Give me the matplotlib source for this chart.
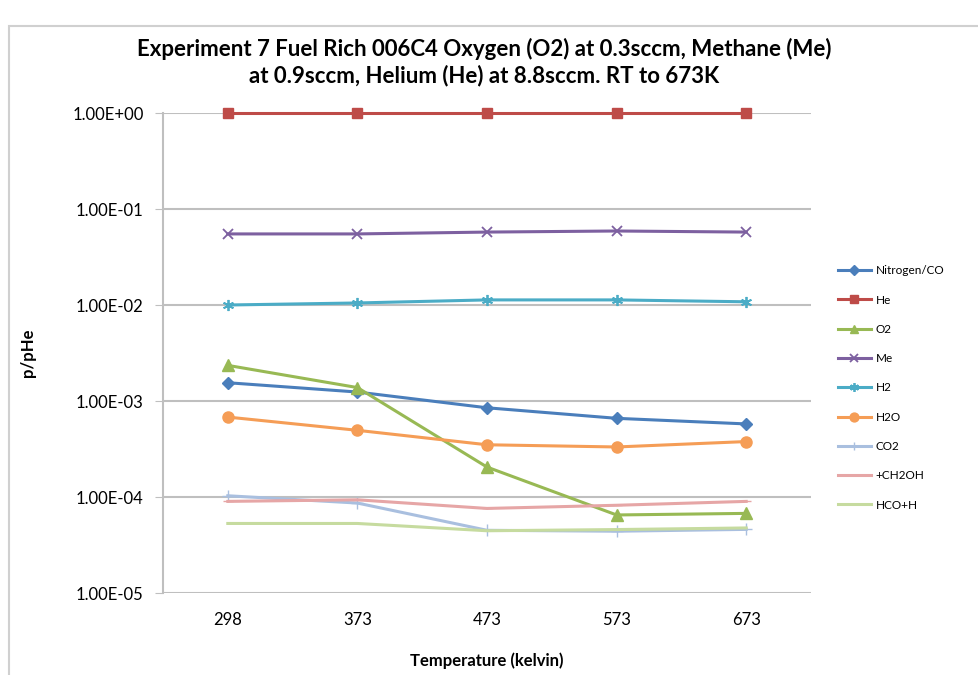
import matplotlib.pyplot as plt
from matplotlib.patches import Rectangle

plt.rcParams["font.family"] = ["Lato", "DejaVu Sans"]

temperatures = ["298", "373", "473", "573", "673"]

nitrogen_co = [1.55e-3, 1.24e-3, 8.5e-4, 6.6e-4, 5.77e-4]
helium = [1.0, 1.0, 1.0, 1.0, 1.0]
oxygen = [2.35e-3, 1.38e-3, 2.05e-4, 6.5e-5, 6.75e-5]
methane = [0.055, 0.055, 0.0575, 0.059, 0.0575]
hydrogen = [0.0100, 0.0105, 0.0113, 0.0113, 0.0108]
water = [6.8e-4, 4.95e-4, 3.5e-4, 3.32e-4, 3.78e-4]
co2 = [1.03e-4, 8.65e-5, 4.5e-5, 4.4e-5, 4.6e-5]
ch2oh = [9.0e-5, 9.35e-5, 7.6e-5, 8.2e-5, 9.0e-5]
hco_h = [5.3e-5, 5.3e-5, 4.45e-5, 4.58e-5, 4.76e-5]

y_ticks = [1e0, 1e-1, 1e-2, 1e-3, 1e-4, 1e-5]
y_tick_labels = ["1.00E+00", "1.00E-01", "1.00E-02", "1.00E-03", "1.00E-04", "1.00E-05"]

series = [
    ("Nitrogen/CO", nitrogen_co, "#4a7ebb", dict(marker="D", markersize=6)),
    ("He", helium, "#be4b48", dict(marker="s", markersize=7)),
    ("O2", oxygen, "#98b954", dict(marker="^", markersize=8)),
    ("Me", methane, "#7d60a0", dict(marker="x", markersize=7, markeredgewidth=1.3)),
    ("H2", hydrogen, "#4bacc6", dict(marker=(6, 2, 0), markersize=8, markeredgewidth=1.3)),
    ("H2O", water, "#f59d56", dict(marker="o", markersize=8)),
    ("CO2", co2, "#a9bfdf", dict(marker="+", markersize=8, markeredgewidth=1.0)),
    ("+CH2OH", ch2oh, "#e6a6a6", dict(marker="_", markersize=7, markeredgewidth=1.0)),
    ("HCO+H", hco_h, "#c6db9f", dict(marker="None")),
]

fig = plt.figure(figsize=(9.79, 6.75), dpi=100)
fig.patches.append(Rectangle((9 / 979, -0.1), 1.2, 1 - 26 / 675 + 0.1,
                             transform=fig.transFigure, fill=False,
                             edgecolor="#d0d0d0", linewidth=1.5))
ax = fig.add_axes([163 / 979, 1 - 593 / 675, 648 / 979, 480 / 675])

x = list(range(len(temperatures)))
for name, values, color, style in series:
    ax.plot(x, values, color=color, linewidth=2.2, label=name, clip_on=False, **style)

ax.set_yscale("log")
ax.set_ylim(1e-5, 1e0)
ax.set_xlim(-0.5, len(temperatures) - 0.5)
ax.set_yticks(y_ticks)
ax.set_yticklabels(y_tick_labels)
ax.minorticks_off()
ax.set_xticks(x)
ax.set_xticklabels(temperatures)
ax.tick_params(axis="y", length=6, color="#bfbfbf", labelsize=12, pad=8)
ax.tick_params(axis="x", length=0, labelsize=12, pad=14)
ax.grid(axis="y", color="#bfbfbf", linewidth=1.5)
ax.set_axisbelow(True)
for side in ["top", "right", "bottom"]:
    ax.spines[side].set_visible(False)
ax.spines["left"].set_color("#bfbfbf")
ax.spines["left"].set_linewidth(1.5)

ax.set_ylabel("p/pHe", fontsize=12, fontweight="bold", labelpad=26)
ax.set_xlabel("Temperature (kelvin)", fontsize=12, fontweight="bold", labelpad=17)
fig.suptitle("Experiment 7 Fuel Rich 006C4 Oxygen (O2) at 0.3sccm, Methane (Me)\n"
             "at 0.9sccm, Helium (He) at 8.8sccm. RT to 673K",
             x=484 / 979, y=1 - 38 / 675, fontsize=16, fontweight="bold",
             linespacing=1.25)

ax.legend(loc="upper left", bbox_to_anchor=(1.025, 0.705), frameon=False,
          fontsize=8.5, handlelength=2.8, labelspacing=1.55, handletextpad=0.4,
          markerscale=0.8)

fig.savefig("out.png", dpi=100)
